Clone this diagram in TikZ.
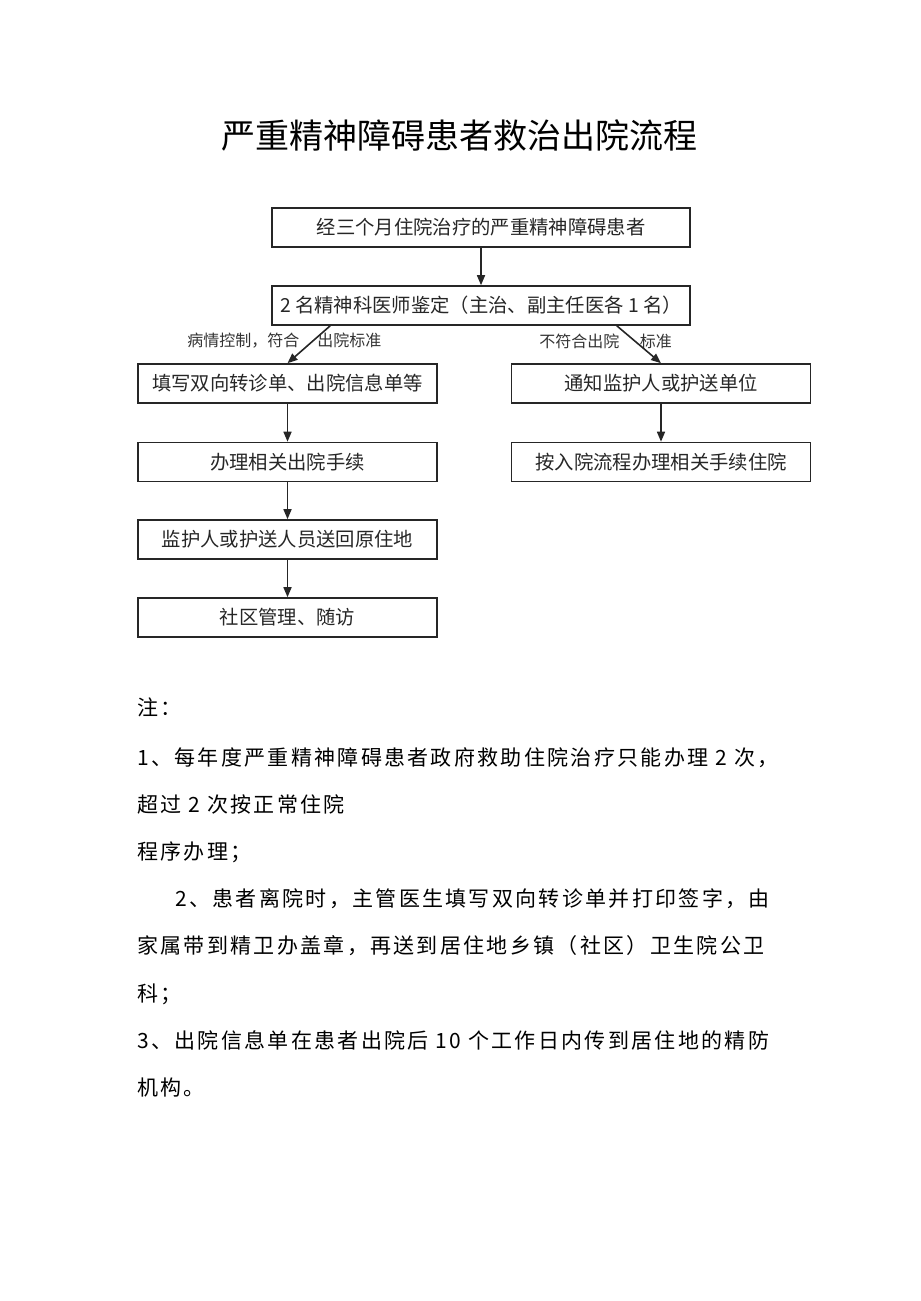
\documentclass[tikz,border=0pt]{standalone}
\usepackage{fontspec}
\setmainfont{Noto Sans CJK SC}
\newfontfamily\notefont[LetterSpace=11]{Noto Sans CJK SC}
\usetikzlibrary{arrows.meta}

\tikzset{
  box/.style={draw=black!85, line width=1.2pt, inner sep=0pt,
    minimum height=29.25pt, font=\fontsize{14.5}{16}\selectfont, text=black!85},
  widebox/.style={box, minimum width=313.5pt},
  colbox/.style={box, minimum width=224.25pt},
  arr/.style={draw=black!85, line width=1.2pt, -{Triangle[length=7.5pt,width=6pt]}},
  cond/.style={inner sep=0pt, anchor=west, font=\fontsize{12}{14}\selectfont, text=black!80},
  note/.style={inner sep=0pt, anchor=west, text height=13.9pt, text depth=1.9pt,
    font=\notefont\fontsize{15.75}{18}\selectfont}
}

\begin{document}
\begin{tikzpicture}[x=0.75pt, y=-0.75pt]
\useasboundingbox (0,0) rectangle (920,1301);

% title
\node[font=\fontsize{25.5}{28}\selectfont] (title) at (459.5,135) {严重精神障碍患者救治出院流程};

% main steps
\node[widebox] (start)  at (481,227.5) {经三个月住院治疗的严重精神障碍患者};
\node[widebox] (assess) at (481,305.5) {2 名精神科医师鉴定（主治、副主任医各 1 名）};

% discharge branch
\node[colbox] (fill)   at (287.5,383.5) {填写双向转诊单、出院信息单等};
\node[colbox] (handle) at (287.5,462)   {办理相关出院手续};
\node[colbox] (escort) at (287.5,539.5) {监护人或护送人员送回原住地};
\node[colbox] (follow) at (287.5,617.5) {社区管理、随访};

% stay branch
\node[colbox] (notify)  at (661,383.5) {通知监护人或护送单位};
\node[colbox] (readmit) at (661,462)   {按入院流程办理相关手续住院};

% conditions
\node[cond] (okcond) at (187,341) {病情控制，符合\hspace{13.5pt}出院标准};
\node[cond] (nocond) at (539,341) {不符合出院\hspace{15.5pt}标准};

% arrows
\draw[arr] (start) -- (assess);
\draw[arr] ([xshift=44.25pt]assess.south west) -- (fill.north);
\draw[arr] ([xshift=-55.5pt]assess.south east) -- (notify.north);
\draw[arr] (fill) -- (handle);
\draw[arr] (handle) -- (escort);
\draw[arr] (escort) -- (follow);
\draw[arr] (notify) -- (readmit);

% notes
\node[note] (n0) at (137,707)  {注：};
\node[note] (n1) at (137,757)  {1、每年度严重精神障碍患者政府救助住院治疗只能办理 2 次，};
\node[note] (n2) at (137,804)  {超过 2 次按正常住院};
\node[note] (n3) at (137,851)  {程序办理；};
\node[note] (n4) at (175,898)  {2、患者离院时，主管医生填写双向转诊单并打印签字，由};
\node[note] (n5) at (137,945)  {家属带到精卫办盖章，再送到居住地乡镇（社区）卫生院公卫};
\node[note] (n6) at (137,993)  {科；};
\node[note] (n7) at (137,1040) {3、出院信息单在患者出院后 10 个工作日内传到居住地的精防};
\node[note] (n8) at (137,1087) {机构。};

\end{tikzpicture}
\end{document}
